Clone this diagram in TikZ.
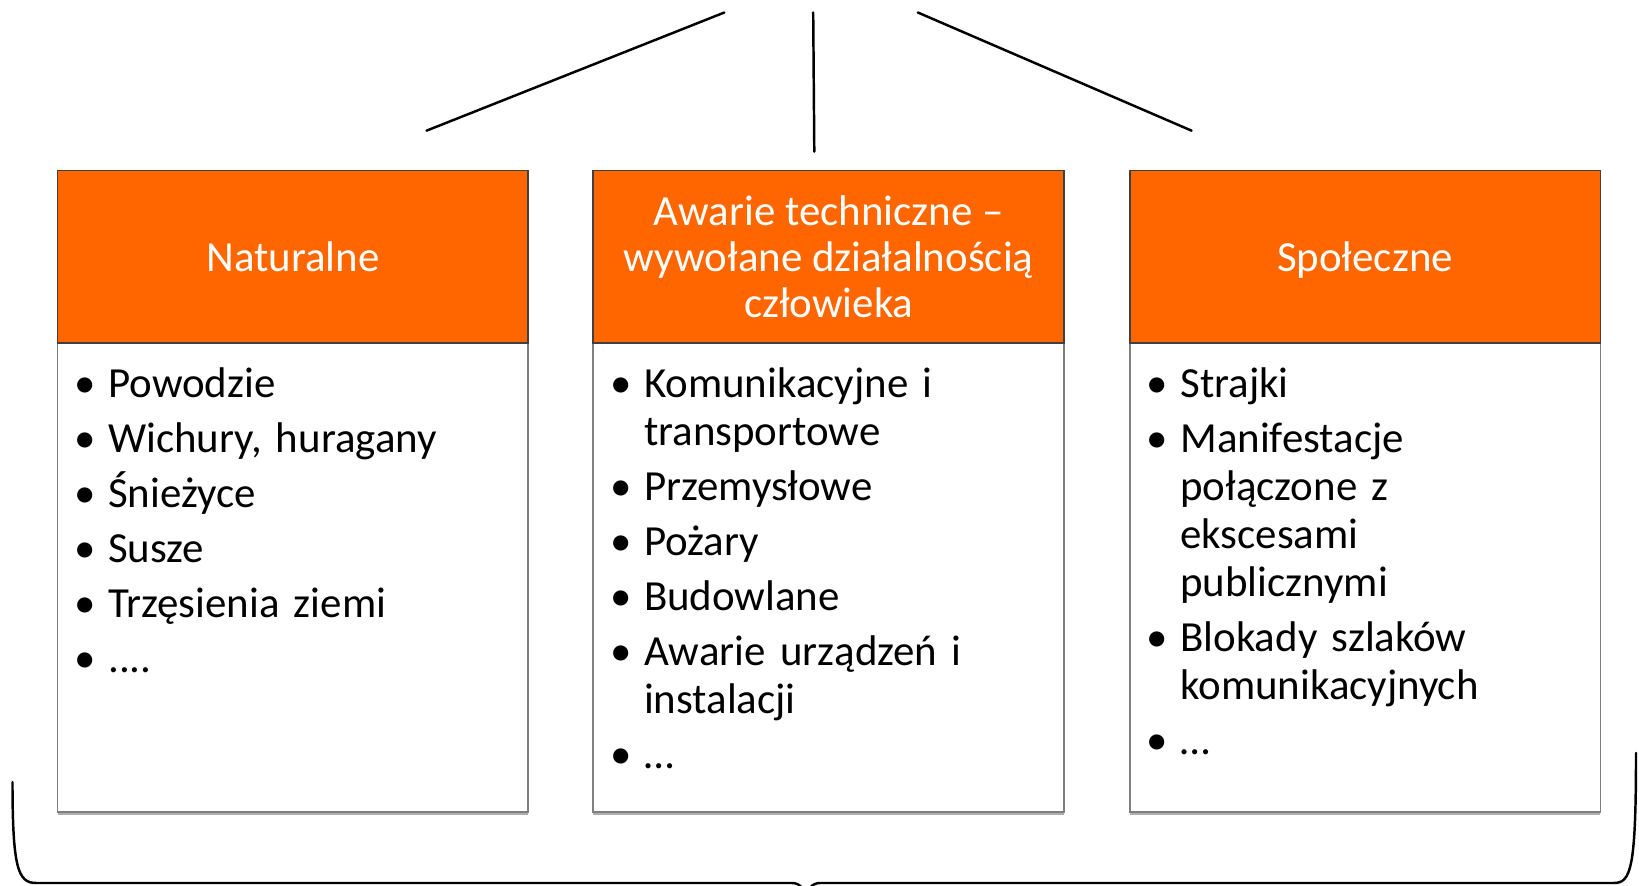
\documentclass[tikz,border=0pt]{standalone}
\usepackage{fontspec}
\setmainfont{Carlito}
\usepackage{xcolor}
\usepackage{enumitem}
\usetikzlibrary{positioning,shadows}
\definecolor{hdrorange}{HTML}{FF6600}
\definecolor{hdrline}{HTML}{404040}
\definecolor{boxline}{HTML}{7F7F7F}
\hyphenpenalty=10000
\setlist[itemize]{label=\textbullet,leftmargin=0.39cm,labelsep=0.125cm,itemsep=2.05pt,parsep=0pt,topsep=0pt,partopsep=0pt}

\begin{document}
\begin{tikzpicture}[x=0.01cm,y=-0.01cm,
  hdr/.style={draw=hdrline,fill=hdrorange,line width=0.5pt,minimum width=4.705cm,minimum height=1.725cm,
    inner sep=0pt,outer sep=0pt,text=white,align=center,font=\fontsize{12.2}{13.2}\selectfont},
  body/.style={draw=boxline,fill=white,line width=0.5pt,minimum width=4.705cm,minimum height=4.69cm,
    inner sep=0pt,outer sep=0pt,
    drop shadow={shadow xshift=0pt,shadow yshift=-0.7pt,fill=black!45,opacity=.7}},
  items/.style={below right=0.063cm and 0.11cm of #1,inner sep=0pt,text width=3.9cm,align=left,
    font=\fontsize{12.2}{13.6}\selectfont},
  bar/.style={line width=0.7pt,line cap=round}]
\clip (0,0) rectangle (1639,886);
\useasboundingbox (0,0) rectangle (1639,886);

% the three groups
\node[body,anchor=north west] (natbody) at (57.5,343) {};
\node[hdr,text depth=0pt,above=0pt of natbody] (nat) {Naturalne};
\node[body,right=0.65cm of natbody] (techbody) {};
\node[hdr,above=0pt of techbody] (tech) {Awarie techniczne –\\wywołane działalnością\\człowieka};
\node[body,right=0.655cm of techbody] (socbody) {};
\node[hdr,text depth=0pt,above=0pt of socbody] (soc) {Społeczne};

\node[items=natbody.north west] (natlist) {%
\begin{itemize}
\item\strut Powodzie
\item Wichury, huragany
\item Śnieżyce
\item Susze
\item Trzęsienia ziemi
\item ....
\end{itemize}};
\node[items=techbody.north west] (techlist) {%
\begin{itemize}
\item\strut Komunikacyjne i transportowe
\item Przemysłowe
\item Pożary
\item Budowlane
\item Awarie urządzeń i instalacji
\item …
\end{itemize}};
\node[items=socbody.north west] (soclist) {%
\begin{itemize}
\item\strut Strajki
\item Manifestacje połączone z ekscesami publicznymi
\item Blokady szlaków komunikacyjnych
\item …
\end{itemize}};

% lines at the top
\coordinate (fanL) at (426.5,130.7);
\coordinate (fanLtop) at (724.4,12.5);
\coordinate (fanM) at (814.3,151.6);
\coordinate (fanMtop) at (813.2,12.5);
\coordinate (fanR) at (1191.6,130.7);
\coordinate (fanRtop) at (917.8,12.5);
\draw[bar] (fanL) -- (fanLtop);
\draw[bar] (fanM) -- (fanMtop);
\draw[bar] (fanR) -- (fanRtop);

% brace underneath
\coordinate (braceL) at (12.5,782);
\coordinate (braceR) at (1636,753);
\draw[bar] (braceL) .. controls (12.5,868) and (18,883) .. (36,883) -- (792,883)
  .. controls (800,883) and (805,889) .. (806,900)
  .. controls (807,889) and (812,883) .. (820,883) -- (1614,883)
  .. controls (1631,883) and (1636,868) .. (braceR);
\end{tikzpicture}
\end{document}
